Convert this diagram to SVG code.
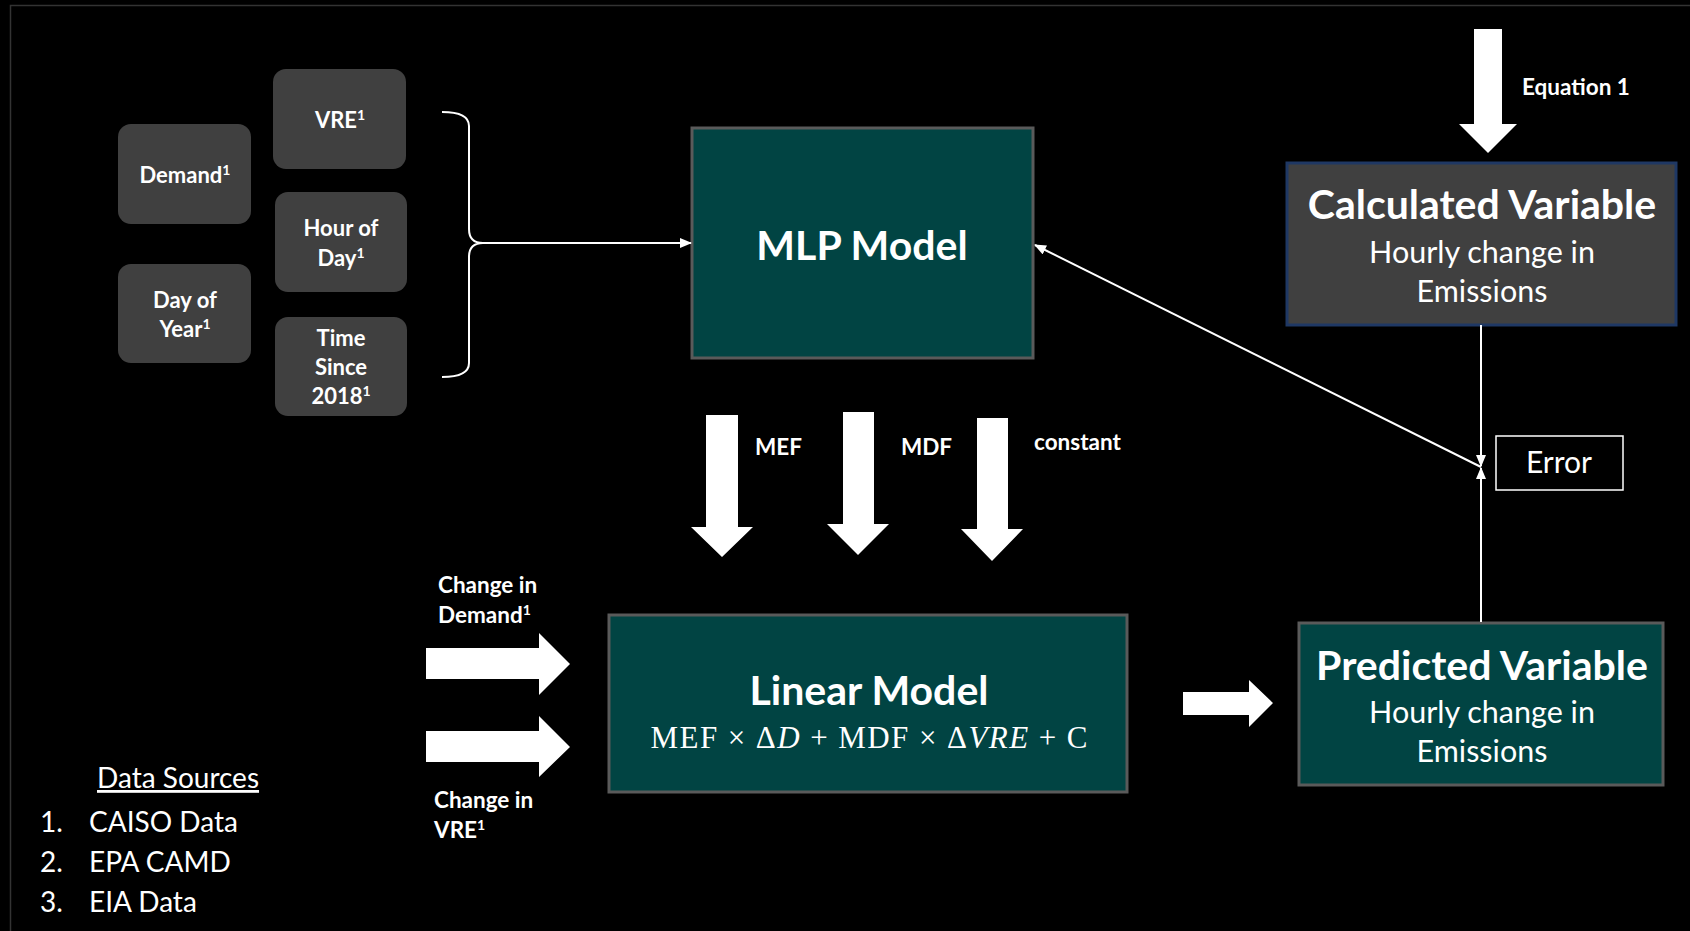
<svg xmlns="http://www.w3.org/2000/svg" width="1690" height="931" viewBox="0 0 1690 931">
<defs>
<style>
text{font-family:Lato,"Liberation Sans",sans-serif;fill:#fff}
.in rect{fill:#404040}
.in text{font-weight:bold;font-size:22px;text-anchor:middle}
.teal{fill:#014443;stroke:#5a5a5a;stroke-width:3}
.big{font-weight:bold;text-anchor:middle;font-size:41px}
.sub{font-size:30.5px;text-anchor:middle}
.lbl{font-weight:bold;font-size:22.5px}
.src{font-size:28px}
.blk{fill:#fff}
.ln{stroke:#fff;stroke-width:2;fill:none}
.sup{font-size:14px}
</style>
<marker id="ah" markerUnits="userSpaceOnUse" markerWidth="12" markerHeight="10" refX="11" refY="5" orient="auto">
<path d="M0,0 L12,5 L0,10 Z" fill="#fff"/>
</marker>
</defs>
<rect width="1690" height="931" fill="#000"/>
<path d="M10.5,931 V5.5 H1690" fill="none" stroke="#333" stroke-width="1.5"/>

<g id="n-vre" class="in"><rect x="273" y="69" width="133" height="100" rx="13"/><text x="340" y="128">VRE<tspan class="sup" dy="-8">1</tspan></text></g>
<g id="n-demand" class="in"><rect x="118" y="124" width="133" height="100" rx="13"/><text x="185" y="183">Demand<tspan class="sup" dy="-8">1</tspan></text></g>
<g id="n-hour" class="in"><rect x="275" y="192" width="132" height="100" rx="13"/><text x="341" y="236">Hour of</text><text x="341" y="266">Day<tspan class="sup" dy="-8">1</tspan></text></g>
<g id="n-doy" class="in"><rect x="118" y="264" width="133" height="99" rx="13"/><text x="185" y="308">Day of</text><text x="185" y="337">Year<tspan class="sup" dy="-8">1</tspan></text></g>
<g id="n-time" class="in"><rect x="275" y="317" width="132" height="99" rx="13"/><text x="341" y="346">Time</text><text x="341" y="375">Since</text><text x="341" y="404">2018<tspan class="sup" dy="-8">1</tspan></text></g>

<g id="n-mlp"><rect class="teal" x="692" y="128" width="341" height="230"/><text class="big" x="862" y="260">MLP Model</text></g>

<g id="n-calc"><rect x="1287" y="163" width="389" height="162" fill="#404040" stroke="#1f3864" stroke-width="3"/><text class="big" x="1482" y="219">Calculated Variable</text><text class="sub" x="1482" y="263">Hourly change in</text><text class="sub" x="1482" y="302">Emissions</text></g>

<g id="n-error"><rect x="1496" y="436" width="127" height="54" fill="none" stroke="#fff" stroke-width="1.5"/><text x="1559" y="473" font-size="30" text-anchor="middle">Error</text></g>

<g id="n-linear"><rect class="teal" x="609" y="615" width="518" height="177"/><text class="big" x="869" y="705">Linear Model</text><text x="869" y="748" font-size="31" text-anchor="middle" textLength="437" lengthAdjust="spacing" style="font-family:'Liberation Serif','DejaVu Serif',serif">MEF × Δ<tspan font-style="italic">D</tspan> + MDF × Δ<tspan font-style="italic">VRE</tspan>  + C</text></g>

<g id="n-pred"><rect class="teal" x="1299" y="623" width="364" height="162"/><text class="big" x="1482" y="680">Predicted Variable</text><text class="sub" x="1482" y="723">Hourly change in</text><text class="sub" x="1482" y="762">Emissions</text></g>

<g id="n-sources" class="src"><text x="97" y="788" text-decoration="underline">Data Sources</text>
<text x="40" y="832">1.</text><text x="89" y="832">CAISO Data</text>
<text x="40" y="872">2.</text><text x="89" y="872">EPA CAMD</text>
<text x="40" y="912">3.</text><text x="89" y="912">EIA Data</text></g>

<g id="connectors">
<path class="ln" stroke-width="3" d="M442,112 Q469,112 469,126 L469,229 Q469,243 483,243 Q469,243 469,257 L469,363 Q469,377 442,377"/>
<line class="ln" x1="483" y1="243" x2="691" y2="243" marker-end="url(#ah)"/>
<line class="ln" x1="1481" y1="467" x2="1035" y2="245" marker-end="url(#ah)"/>
<line class="ln" x1="1481" y1="325" x2="1481" y2="466" marker-end="url(#ah)"/>
<line class="ln" x1="1481" y1="622" x2="1481" y2="468" marker-end="url(#ah)"/>
<path class="blk" d="M1474,29 H1502 V124 H1517 L1488,153 L1459,124 H1474 Z"/>
<text class="lbl" x="1522" y="95">Equation 1</text>
<path class="blk" d="M706,415 H738 V527 H753 L722,557 L691,527 H706 Z"/>
<text class="lbl" x="755" y="455">MEF</text>
<path class="blk" d="M843,412 H874 V524 H889 L858,555 L827,524 H843 Z"/>
<text class="lbl" x="901" y="455">MDF</text>
<path class="blk" d="M977,418 H1008 V529 H1023 L992,561 L961,529 H977 Z"/>
<text class="lbl" x="1034" y="450">constant</text>
<path class="blk" d="M426,648 H539 V633 L570,664 L539,695 V679 H426 Z"/>
<text class="lbl" x="438" y="593">Change in</text><text class="lbl" x="438" y="623">Demand<tspan class="sup" dy="-8">1</tspan></text>
<path class="blk" d="M426,731 H539 V716 L570,747 L539,777 V762 H426 Z"/>
<text class="lbl" x="434" y="808">Change in</text><text class="lbl" x="434" y="838">VRE<tspan class="sup" dy="-8">1</tspan></text>
<path class="blk" d="M1183,692 H1249 V680 L1273,703 L1249,727 V715 H1183 Z"/>
</g>
</svg>
